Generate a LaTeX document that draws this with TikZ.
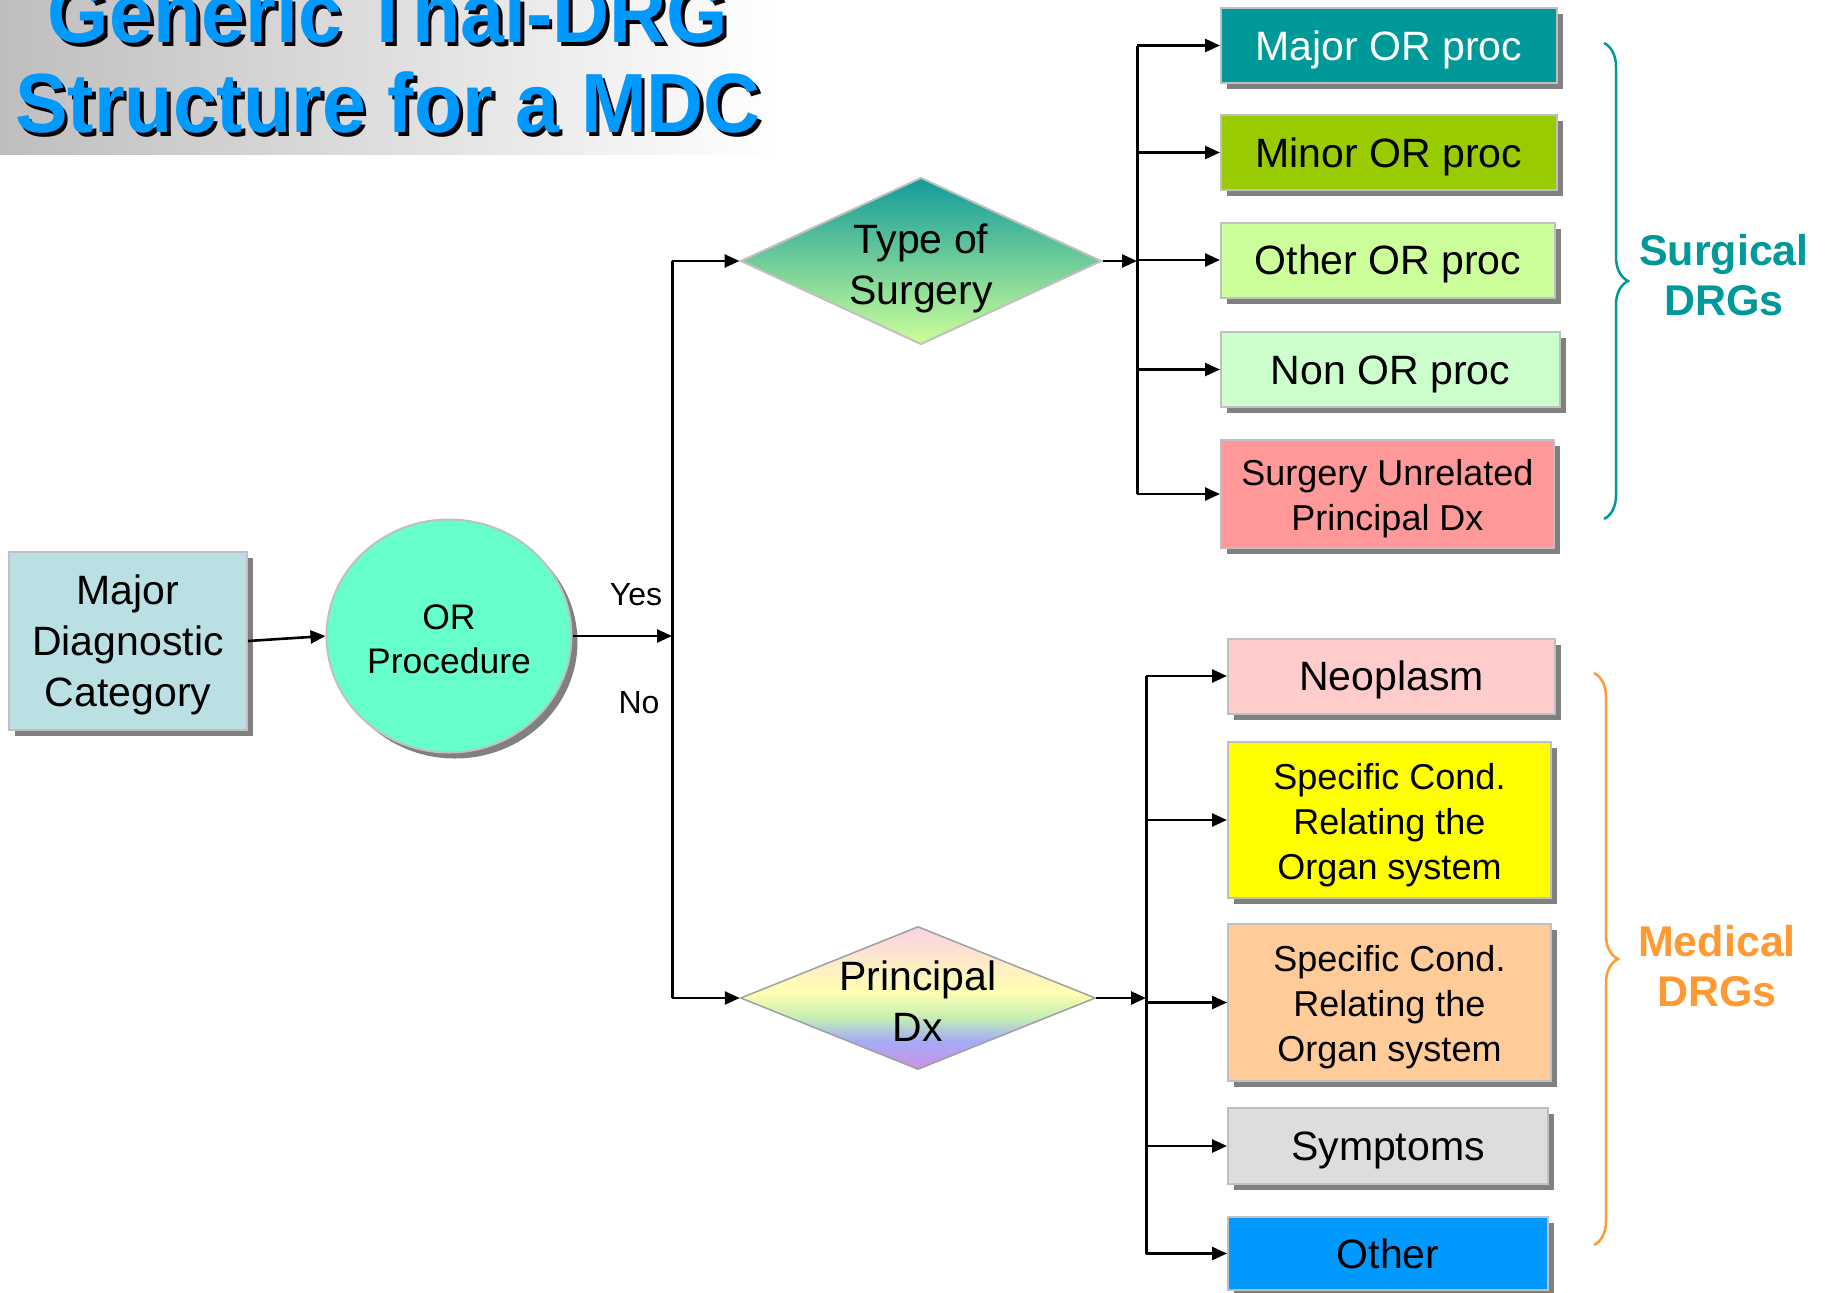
\documentclass[tikz,border=0pt]{standalone}
\usepackage{fontspec}
\setmainfont{Liberation Sans}
\usetikzlibrary{shapes.geometric,arrows.meta,shadows,decorations.pathreplacing}

\definecolor{titleblue}{HTML}{0099FF}
\definecolor{titlegray}{HTML}{BEBEBE}
\definecolor{boxline}{HTML}{C0C0C0}
\definecolor{shadowgray}{HTML}{808080}
\definecolor{mdcblue}{HTML}{BBE0E3}
\definecolor{orgreen}{HTML}{66FFCC}
\definecolor{tsteal}{HTML}{129A9A}
\definecolor{tsgreen}{HTML}{CCFF99}
\definecolor{dxline}{HTML}{A0A0A0}
\definecolor{dxpink}{HTML}{FAD2E4}
\definecolor{dxyellow}{HTML}{FFFFB0}
\definecolor{dxgreen}{HTML}{C4EDB4}
\definecolor{dxblue}{HTML}{A4ACF6}
\definecolor{dxpurple}{HTML}{CC90E6}
\definecolor{surgteal}{HTML}{009999}
\definecolor{medorange}{HTML}{FF9933}

\pgfdeclareverticalshading{rainbowdx}{100bp}{color(0bp)=(dxpurple); color(25bp)=(dxpurple);
  color(35bp)=(dxblue); color(43bp)=(dxgreen); color(52bp)=(dxyellow); color(75bp)=(dxpink);
  color(100bp)=(dxpink)}

\newcommand\shadowtext[1]{\makebox[0pt][l]{\hspace{4pt}\raisebox{-4pt}{\color{black}#1}}#1}
\newcommand\lift[1]{\rule{0pt}{#1}}

\begin{document}
\begin{tikzpicture}[x=1pt,y=1pt,font=\fontsize{41}{51}\selectfont,
  box/.style={draw=boxline,line width=2pt,inner sep=0pt,align=center,
    drop shadow={shadow xshift=6pt,shadow yshift=-6pt,fill=shadowgray,opacity=1}},
  one/.style={text height=38pt,text depth=9pt},
  surg/.style={box,minimum width=336pt,minimum height=75pt},
  med/.style={box,minimum width=324pt,minimum height=75pt},
  small/.style={font=\fontsize{36}{45}\selectfont},
  dia/.style={diamond,inner sep=0pt,line width=2pt},
  ttl/.style={anchor=base,xscale=0.94,transform shape,font=\fontsize{84}{90}\selectfont\bfseries,text=titleblue},
  flow/.style={line width=2.6pt,-{Triangle[length=15pt,width=13pt]}},
  trunk/.style={line width=3pt},
  drgbrace/.style={decorate,decoration={brace,amplitude=24pt},line width=2.5pt},
  drglabel/.style={font=\fontsize{43}{50}\selectfont\bfseries,align=center}]
\clip (0,0) rectangle (1829,-1293);

\shade[left color=titlegray,right color=white] (0,0) rectangle (779,-154);
\node[ttl] (t1) at (388,-42) {\shadowtext{Generic Thai-DRG}};
\node[ttl] (t2) at (388,-132) {\shadowtext{Structure for a MDC}};

\node[box,fill=mdcblue,minimum width=238pt,minimum height=178pt] (mdc) at (128,-641) {\lift{36.5pt}Major\\Diagnostic\\Category};
\node[box,ellipse,fill=orgreen,minimum width=245pt,minimum height=233pt,
  font=\fontsize{35.5}{44}\selectfont] (orp) at (449,-636) {\lift{32pt}OR\\Procedure};

\node[dia,draw=boxline,top color=tsteal,bottom color=tsgreen,minimum width=361pt,minimum height=167pt,
  label={[align=center,yshift=-7pt]center:Type of\\Surgery}] (ts) at (921,-261) {};
\node[dia,draw=dxline,line width=1.5pt,shade,shading=rainbowdx,minimum width=355pt,minimum height=143pt,
  label={[align=center,yshift=-3pt]center:Principal\\Dx}] (pd) at (918,-998) {};

\node[surg,one,fill=surgteal,text=white] (majp) at (1389,-45.5) {Major OR proc};
\node[surg,one,fill={rgb,255:red,153;green,204;blue,0}] (minp) at (1389,-152.5) {Minor OR proc};
\node[surg,one,fill={rgb,255:red,204;green,255;blue,153},minimum width=334pt] (othp) at (1388,-260) {Other OR proc};
\node[surg,one,fill={rgb,255:red,204;green,255;blue,204},minimum width=339pt] (nonp) at (1390.5,-369.5) {Non OR proc};
\node[surg,small,fill={rgb,255:red,255;green,153;blue,153},minimum width=333pt,minimum height=108pt] (unrp) at (1387.5,-494) {\lift{36pt}Surgery Unrelated\\Principal Dx};

\node[med,one,fill={rgb,255:red,255;green,204;blue,204},minimum width=327pt] (neo) at (1391.5,-676) {Neoplasm};
\node[med,small,fill={rgb,255:red,255;green,255;blue,0},minimum width=323pt,minimum height=156pt] (scy) at (1389.5,-820) {\lift{36pt}Specific Cond.\\Relating the\\Organ system};
\node[med,small,fill={rgb,255:red,255;green,204;blue,153},minimum width=323pt,minimum height=157pt] (sco) at (1389.5,-1002.5) {\lift{36pt}Specific Cond.\\Relating the\\Organ system};
\node[med,one,fill={rgb,255:red,221;green,221;blue,221},minimum width=320pt,minimum height=76pt] (sym) at (1388,-1146) {Symptoms};
\node[med,one,fill={rgb,255:red,0;green,153;blue,255},minimum width=320pt,minimum height=73pt] (oth) at (1388,-1253.5) {Other};

\coordinate (j1) at (672,-636);
\coordinate (j2) at (1137,-261);
\coordinate (j3) at (1146,-998);

\draw[flow] (mdc.east) -- (orp.west);
\draw[flow] (orp.east) -- (j1);
\draw[trunk] (j1 |- ts.west) -- (j1 |- pd.west);
\draw[flow] (j1 |- ts.west) -- (ts.west);
\draw[flow] (j1 |- pd.west) -- (pd.west);
\node[font=\fontsize{32}{38}\selectfont] (yes) at (636,-595) {Yes};
\node[font=\fontsize{32}{38}\selectfont] (no) at (639,-703) {No};

\draw[flow] (ts.east) -- (j2);
\draw[trunk] (j2 |- majp.west) -- (j2 |- unrp.west);
\foreach \b in {majp,minp,othp,nonp,unrp}
  \draw[flow] (j2 |- \b.west) -- (\b.west);

\draw[flow] (pd.east) -- (j3);
\draw[trunk] (j3 |- neo.west) -- (j3 |- oth.west);
\foreach \b in {neo,scy,sco,sym,oth}
  \draw[flow] (j3 |- \b.west) -- (\b.west);

\coordinate (sb1) at (1604,-43);
\coordinate (sb2) at (1604,-519);
\coordinate (mb1) at (1594,-673);
\coordinate (mb2) at (1594,-1245);
\draw[drgbrace,draw=surgteal] (sb1) -- (sb2);
\draw[drgbrace,draw=medorange] (mb1) -- (mb2);
\node[drglabel,text=surgteal] (surgl) at (1724,-275) {Surgical\\DRGs};
\node[drglabel,text=medorange] (medl) at (1717,-966) {Medical\\DRGs};
\end{tikzpicture}
\end{document}
